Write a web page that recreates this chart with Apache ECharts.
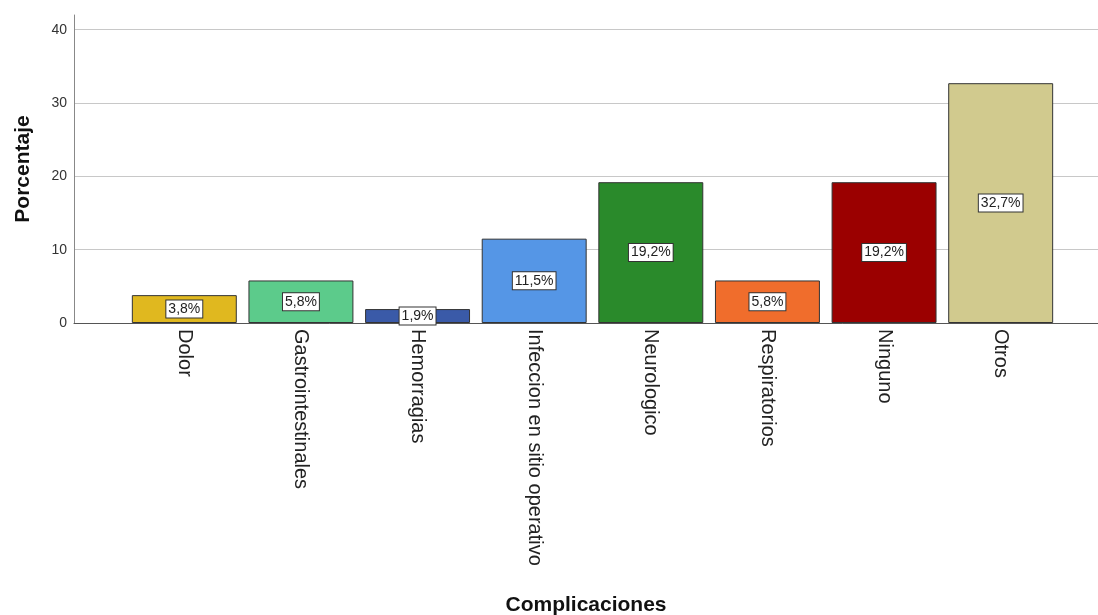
<!DOCTYPE html>
<html>
<head>
<meta charset="utf-8">
<script src="https://cdn.jsdelivr.net/npm/echarts@6/dist/echarts.min.js"></script>
<style>
  html, body { margin: 0; padding: 0; background: #ffffff; }
  #chart { width: 1098px; height: 615px; }
</style>
</head>
<body>
<div id="chart"></div>
<script>
// Complicaciones: porcentaje de pacientes por tipo
const categories = ['Dolor', 'Gastrointestinales', 'Hemorragias', 'Infeccion en sitio operativo',
  'Neurologico', 'Respiratorios', 'Ninguno', 'Otros'];
const percentages = [3.8, 5.8, 1.9, 11.5, 19.2, 5.8, 19.2, 32.7];
const barColors = ['#e0b81f', '#5ccb8b', '#3a5aa8', '#5596e6', '#2a8a2b', '#f06d2c', '#9b0000', '#d1ca8e'];
const yTicks = [0, 10, 20, 30, 40];

const FONT = '"Liberation Sans", Arial, sans-serif';
const Y_MAX = 42;

const chart = echarts.init(document.getElementById('chart'));

chart.setOption({
  animation: false,
  backgroundColor: '#ffffff',
  grid: [
    // frame: y axis, gridlines and baseline across the full width
    { left: 74, right: 0, top: 15, bottom: 292, outerBoundsMode: 'none', containLabel: false },
    // bars
    { left: 126, right: 39, top: 15, bottom: 292, outerBoundsMode: 'none', containLabel: false }
  ],
  xAxis: [
    {
      gridIndex: 0, type: 'value', min: 0, max: 1,
      axisLine: { show: true, lineStyle: { color: '#555555', width: 1 } },
      axisTick: { show: false }, axisLabel: { show: false }, splitLine: { show: false },
      name: 'Complicaciones', nameLocation: 'middle', nameGap: 272,
      nameTextStyle: { fontFamily: FONT, fontSize: 21, fontWeight: 'bold', color: '#111111' }
    },
    {
      gridIndex: 1, type: 'category', data: categories,
      axisLine: { show: false }, axisTick: { show: false },
      axisLabel: { rotate: -90, margin: 6, fontFamily: FONT, fontSize: 20, color: '#222222' }
    }
  ],
  yAxis: [
    {
      gridIndex: 0, type: 'value', min: 0, max: Y_MAX, interval: 10,
      axisLine: { show: true, lineStyle: { color: '#888888', width: 1 } },
      axisTick: { show: false },
      splitLine: { show: true, showMaxLine: false, lineStyle: { color: '#c8c8c8', width: 1 } },
      axisLabel: {
        margin: 7, fontFamily: FONT, fontSize: 14, color: '#333333', showMaxLabel: false,
        formatter: v => (yTicks.indexOf(v) >= 0 ? String(v) : '')
      },
      name: 'Porcentaje', nameLocation: 'middle', nameGap: 40, nameRotate: 90,
      nameTextStyle: { fontFamily: FONT, fontSize: 21, fontWeight: 'bold', color: '#111111' }
    },
    {
      gridIndex: 1, type: 'value', min: 0, max: Y_MAX,
      show: false
    }
  ],
  series: [{
    type: 'bar',
    xAxisIndex: 1, yAxisIndex: 1,
    barCategoryGap: '10%',
    data: percentages.map((v, i) => ({
      value: v,
      itemStyle: { color: barColors[i], borderColor: '#333333', borderWidth: 1 }
    })),
    label: {
      show: true, position: 'inside',
      formatter: p => p.value.toFixed(1).replace('.', ',') + '%',
      fontFamily: FONT, fontSize: 14, color: '#222222',
      backgroundColor: '#ffffff', borderColor: '#333333', borderWidth: 1,
      padding: [2, 2, 1, 2]
    }
  }]
});
</script>
</body>
</html>
